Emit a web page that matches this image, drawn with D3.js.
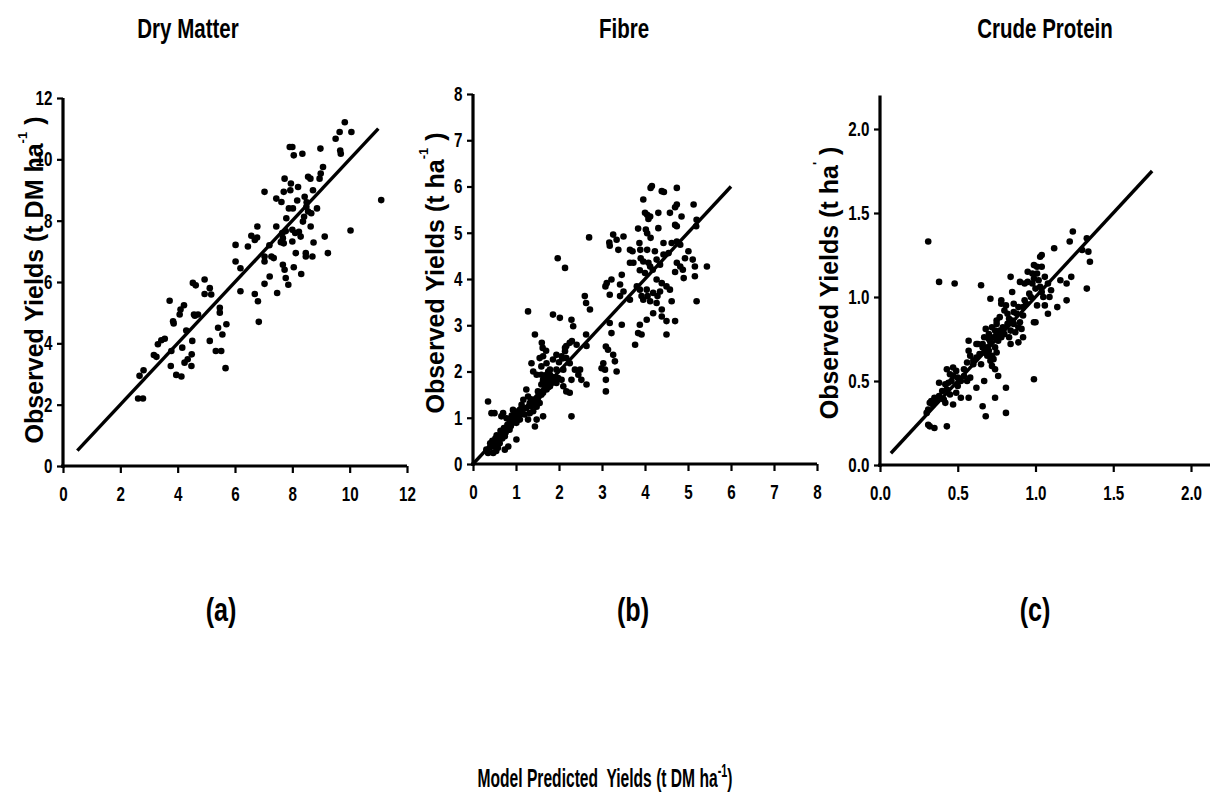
<!DOCTYPE html>
<html>
<head>
<meta charset="utf-8">
<script src="https://cdn.jsdelivr.net/npm/d3@7/dist/d3.min.js"></script>
<style>
  html, body { margin: 0; padding: 0; background: #fff; }
  svg { display: block; }
  text { font-family: "Liberation Sans", Arial, sans-serif; font-weight: bold; fill: #000; }
</style>
</head>
<body>
<svg id="chart" width="1210" height="801"></svg>
<script>
// Observed vs model-predicted yields: [predicted, observed]
const dryMatterPoints = [
  [2.62,2.2],[2.79,2.2],[2.67,2.94],[2.81,3.12],[3.17,3.62],[3.26,3.56],[3.31,3.97],[3.43,4.1],[3.55,4.15],
  [3.72,5.39],[3.76,3.26],[3.78,3.75],[3.84,4.72],[3.86,4.65],[3.95,2.97],[4.13,2.92],[4.07,4.94],[4.1,5.1],
  [4.22,5.24],[4.16,3.86],[4.24,3.37],[4.35,3.48],[4.3,4.42],[4.48,3.26],[4.49,3.64],[4.51,4.08],[4.53,5.97],
  [4.63,5.89],[4.57,4.94],[4.71,4.94],[4.94,6.08],[4.94,5.61],[5.12,5.8],[5.17,5.59],[5.12,4.08],[5.33,3.75],
  [5.52,3.75],[5.41,4.51],[5.56,4.29],[5.7,4.62],[5.47,5.16],[5.47,5.0],[5.67,3.19],[6.02,6.67],[6.02,7.21],
  [6.19,6.45],[6.19,5.7],[6.45,7.16],[6.57,7.51],[6.69,7.37],[6.77,7.45],[6.78,7.81],[6.69,5.61],[6.8,5.37],
  [6.83,4.7],[7.03,8.94],[7.03,6.83],[7.03,6.67],[7.03,5.94],[7.21,6.18],[7.27,6.83],[7.35,6.78],[7.44,7.81],
  [7.44,8.72],[7.47,5.64],[7.62,8.61],[7.7,8.94],[7.73,9.37],[7.67,7.43],[7.7,7.26],[7.77,7.66],[7.79,8.08],
  [7.67,6.56],[7.73,6.4],[7.77,6.13],[7.86,5.91],[7.88,8.4],[7.91,10.4],[8.0,10.4],[8.05,10.13],[7.93,8.99],
  [7.95,9.21],[8.02,8.4],[8.0,7.7],[8.0,7.32],[8.05,6.48],[8.12,6.94],[8.17,8.66],[8.2,9.1],[8.23,7.64],
  [8.29,7.48],[8.31,6.26],[8.35,10.18],[8.37,7.97],[8.41,8.13],[8.43,8.78],[8.49,8.45],[8.47,6.83],[8.47,6.94],
  [8.55,9.43],[8.63,9.37],[8.64,7.81],[8.66,8.24],[8.72,8.99],[8.7,6.83],[8.74,7.29],[8.86,8.4],[8.95,9.37],
  [8.98,10.35],[8.99,9.54],[9.07,9.75],[9.13,7.48],[9.24,6.94],[9.51,10.67],[9.65,10.89],[9.67,10.29],
  [9.69,10.18],[9.83,11.21],[10.06,10.89],[10.03,7.68],[11.1,8.67],[7.6,7.3],[7.65,7.6],[7.2,7.2],[8.1,7.6],
  [8.5,8.6],[8.55,8.3],[4.6,4.9]
];

const fibrePoints = [
  [4.13,5.97],[4.16,6.01],[4.39,5.9],[4.44,5.88],[4.74,5.97],[3.96,5.72],[4.0,5.43],[4.05,5.39],[4.12,5.35],
  [4.08,5.3],[4.31,5.43],[4.58,5.43],[4.74,5.61],[4.7,5.55],[4.85,5.35],[5.13,5.61],[5.2,5.28],[5.19,5.14],
  [3.84,5.09],[4.02,5.07],[4.05,4.99],[4.13,4.89],[4.31,5.1],[4.7,5.17],[4.74,5.14],[3.5,4.92],[3.34,4.85],
  [3.26,4.96],[3.17,4.79],[3.18,4.72],[3.65,4.63],[3.71,4.6],[3.38,4.63],[3.87,4.78],[3.89,4.63],[4.05,4.63],
  [4.23,4.6],[4.43,4.78],[4.62,4.78],[4.74,4.81],[4.82,4.74],[5.01,4.6],[4.93,4.45],[4.43,4.53],[4.55,4.56],
  [3.65,4.35],[3.73,4.35],[3.9,4.45],[3.96,4.38],[4.08,4.35],[4.12,4.27],[4.27,4.42],[4.35,4.31],[4.74,4.35],
  [4.82,4.27],[4.88,4.2],[5.11,4.42],[5.16,4.27],[5.44,4.27],[5.16,4.06],[4.9,4.02],[4.7,4.15],[3.88,4.19],
  [4.0,4.13],[4.18,4.2],[4.27,3.99],[3.46,4.09],[3.22,3.99],[3.42,3.88],[3.11,3.91],[3.08,3.84],[3.42,3.63],
  [3.5,3.73],[3.65,3.55],[3.81,3.84],[3.88,3.77],[3.92,3.63],[3.96,3.55],[4.04,3.77],[4.06,3.63],[4.12,3.52],
  [4.19,3.7],[4.29,3.63],[4.35,3.73],[4.39,3.91],[4.5,3.84],[4.58,3.77],[4.62,3.52],[4.27,3.48],[4.39,3.34],
  [4.39,3.19],[4.19,3.26],[4.04,3.12],[3.88,3.01],[3.84,2.83],[3.92,2.8],[3.77,2.58],[3.46,3.01],[3.18,3.66],
  [3.18,3.05],[3.22,2.83],[3.09,2.54],[3.14,2.47],[3.26,2.36],[3.3,2.22],[3.03,2.18],[3.07,2.04],[3.34,2.0],
  [2.99,2.07],[3.09,1.82],[3.09,1.57],[4.5,3.09],[4.5,2.8],[4.7,3.09],[5.2,3.52],[2.7,4.9],[2.6,3.63],
  [2.63,3.48],[2.72,3.34],[1.97,4.45],[2.14,4.24],[1.28,3.3],[1.86,3.23],[2.02,3.16],[2.29,3.12],[2.33,2.98],
  [2.25,2.62],[2.3,2.66],[2.41,2.58],[2.63,2.8],[2.64,2.55],[1.44,2.8],[1.6,2.62],[1.62,2.51],[1.7,2.45],
  [1.55,2.29],[1.63,2.33],[1.71,2.18],[1.86,2.26],[1.94,2.36],[2.06,2.33],[2.14,2.44],[2.17,2.29],[2.25,2.18],
  [2.14,2.51],[2.17,2.55],[1.94,2.04],[2.1,2.04],[1.36,2.18],[1.4,2.0],[1.48,1.93],[1.59,2.11],[1.75,1.93],
  [1.79,2.04],[2.06,1.82],[2.1,1.68],[2.17,1.57],[2.25,1.54],[2.29,1.82],[2.45,1.93],[2.49,2.04],[2.52,1.82],
  [2.64,1.72],[2.37,2.04],[1.63,1.82],[1.7,1.86],[1.59,1.72],[1.51,1.57],[1.24,1.61],[1.28,1.46],[1.17,1.39],
  [1.32,1.32],[1.13,1.28],[1.44,1.39],[1.51,1.43],[1.44,0.81],[1.48,0.96],[1.63,1.03],[1.01,0.53],[2.29,1.03],
  [0.35,1.35],[0.43,1.1],[0.5,1.1],[0.31,0.31],[0.35,0.24],[0.39,0.35],[0.43,0.42],[0.47,0.45],[0.5,0.38],
  [0.54,0.49],[0.58,0.56],[0.62,0.6],[0.62,0.45],[0.66,0.67],[0.7,0.71],[0.74,0.6],[0.78,0.74],[0.82,0.81],
  [0.85,0.89],[0.89,0.96],[0.93,0.99],[0.97,1.03],[1.01,1.07],[1.05,1.14],[1.09,1.17],[1.13,1.21],[0.7,1.1],
  [0.66,1.03],[0.78,0.99],[0.85,0.74],[0.82,0.38],[0.74,0.31],[0.58,0.35],[0.47,0.24],[0.54,0.28],[0.93,1.17],
  [1.01,0.89],[1.09,0.96],[1.2,1.07],[1.24,1.21],[1.28,0.96],[1.32,1.1],[1.4,1.14],[1.48,1.24],[1.55,1.32],
  [1.59,1.5],[1.63,1.54],[1.71,1.61],[1.75,1.66],[1.79,1.68],[1.83,1.75],[1.9,1.79],[1.63,1.79],[1.67,1.86],
  [1.71,1.93],[1.75,2.0],[1.79,1.93],[1.59,1.93],[1.79,1.82],[1.94,1.75],[1.98,1.86],[0.45,0.5],[0.52,0.55],
  [0.6,0.5],[0.68,0.55],[0.72,0.78],[0.8,0.85],[0.88,0.82],[0.95,0.9],[1.0,0.98],[1.05,1.02],[1.15,1.1],
  [0.4,0.45],[0.55,0.62],[0.64,0.72],[0.76,0.68],[0.9,1.05],[1.1,1.08],[1.35,1.25],[1.45,1.3],[1.52,1.45],
  [1.66,1.74],[1.72,1.8],[1.85,1.88],[2.0,2.2],[2.08,2.28],[1.35,1.4]
];

const proteinPoints = [
  [0.31,1.33],[0.38,1.09],[0.48,1.08],[0.65,1.07],[0.71,0.99],[0.84,1.12],[0.85,1.03],[0.9,1.09],[0.93,1.08],
  [0.95,1.15],[0.98,1.14],[0.99,1.19],[1.01,1.18],[1.03,1.24],[1.04,1.25],[1.04,1.18],[0.95,1.09],[0.98,1.08],
  [0.99,1.11],[1.01,1.14],[1.02,1.1],[1.03,1.06],[1.04,1.03],[1.05,1.0],[1.09,1.0],[1.08,1.08],[1.12,1.29],
  [1.14,0.94],[1.08,0.9],[1.06,0.95],[1.01,0.95],[1.0,0.85],[0.99,0.51],[1.2,0.98],[1.2,1.08],[1.23,1.12],
  [1.22,1.33],[1.24,1.39],[1.33,1.35],[1.34,1.27],[1.35,1.21],[1.33,1.05],[1.3,1.28],[0.78,0.96],[0.77,0.88],
  [0.75,0.86],[0.78,0.98],[0.8,0.92],[0.81,0.95],[0.75,0.84],[0.77,0.8],[0.79,0.82],[0.83,0.87],[0.84,0.8],
  [0.85,0.86],[0.72,0.82],[0.7,0.78],[0.68,0.81],[0.67,0.76],[0.66,0.72],[0.63,0.72],[0.69,0.7],[0.71,0.73],
  [0.73,0.76],[0.75,0.78],[0.74,0.7],[0.75,0.67],[0.73,0.63],[0.71,0.62],[0.69,0.65],[0.67,0.67],[0.64,0.66],
  [0.62,0.64],[0.72,0.59],[0.74,0.57],[0.83,0.76],[0.84,0.72],[0.82,0.84],[0.87,0.79],[0.89,0.82],[0.9,0.85],
  [0.91,0.81],[0.92,0.89],[0.88,0.9],[0.89,0.94],[0.92,0.94],[0.94,0.96],[0.92,0.76],[0.89,0.73],[0.86,0.96],
  [0.86,0.91],[0.57,0.74],[0.62,0.72],[0.58,0.65],[0.56,0.61],[0.6,0.62],[0.54,0.57],[0.49,0.56],[0.47,0.58],
  [0.54,0.53],[0.56,0.5],[0.58,0.52],[0.5,0.52],[0.47,0.53],[0.43,0.57],[0.45,0.54],[0.46,0.5],[0.42,0.48],
  [0.44,0.49],[0.4,0.44],[0.43,0.45],[0.45,0.42],[0.38,0.49],[0.38,0.41],[0.35,0.4],[0.33,0.38],[0.32,0.37],
  [0.34,0.36],[0.31,0.33],[0.3,0.31],[0.31,0.24],[0.32,0.23],[0.35,0.22],[0.42,0.37],[0.41,0.39],[0.47,0.36],
  [0.49,0.43],[0.52,0.4],[0.43,0.23],[0.57,0.4],[0.62,0.46],[0.67,0.5],[0.66,0.35],[0.68,0.29],[0.74,0.4],
  [0.76,0.53],[0.81,0.46],[0.81,0.31],[0.99,0.85],[0.57,0.68],[0.6,0.6],[0.72,0.65],[0.7,0.75],[0.76,0.74],
  [0.8,0.78],[0.86,0.84],[0.96,1.02],[1.0,1.05],[1.06,1.12],[0.93,0.98],[0.82,0.9],[0.7,0.68],[0.65,0.6],
  [0.52,0.5],[0.5,0.47],[0.36,0.38],[1.1,1.04],[1.16,1.1],[0.97,1.0],[0.74,0.8],[0.78,0.76],[0.66,0.7]
];

// 1:1 reference lines, [from, to]
const dryMatterLine = [0.5, 11.0];
const fibreLine = [0.0, 6.0];
const proteinLine = [0.07, 1.75];

const panelTitles = ["Dry Matter", "Fibre", "Crude Protein"];
const panelTags = ["(a)", "(b)", "(c)"];
const dryMatterTicks = [0, 2, 4, 6, 8, 10, 12];
const fibreTicks = [0, 1, 2, 3, 4, 5, 6, 7, 8];
const proteinTicks = [0.0, 0.5, 1.0, 1.5, 2.0];

const svg = d3.select("#chart");
const NARROW = 0.76; // horizontal squeeze that gives the condensed bold face

// condensed text anchored at (x, y), centred
function condensedText(parent, x, y, size, sx) {
  return parent.append("g")
    .attr("transform", `translate(${x},${y}) scale(${sx},1)`)
    .append("text")
    .attr("text-anchor", "middle")
    .style("font-size", size + "px")
    .style("white-space", "pre");
}

const panels = [
  {
    points: dryMatterPoints, line: dryMatterLine, title: panelTitles[0], tag: panelTags[0],
    xTicks: dryMatterTicks, yTicks: dryMatterTicks, fmt: d3.format("d"),
    x: d3.scaleLinear().domain([0, 12]).range([63, 407]),
    y: d3.scaleLinear().domain([0, 12]).range([466, 98]),
    xMax: 12, yMax: 12,
    titleX: 188, tagX: 221, labelX: 43, labelY: 280,
    ylabel: ["Observed Yields (t DM ha", "-1", " )"]
  },
  {
    points: fibrePoints, line: fibreLine, title: panelTitles[1], tag: panelTags[1],
    xTicks: fibreTicks, yTicks: fibreTicks, fmt: d3.format("d"),
    x: d3.scaleLinear().domain([0, 8]).range([473, 817]),
    y: d3.scaleLinear().domain([0, 8]).range([464, 94]),
    xMax: 8, yMax: 8,
    titleX: 624, tagX: 633, labelX: 444, labelY: 273,
    ylabel: ["Observed Yields (t ha", "-1", " )"]
  },
  {
    points: proteinPoints, line: proteinLine, title: panelTitles[2], tag: panelTags[2],
    xTicks: proteinTicks, yTicks: proteinTicks, fmt: d3.format(".1f"),
    x: d3.scaleLinear().domain([0, 2]).range([880, 1191]),
    y: d3.scaleLinear().domain([0, 2.2]).range([465, 95.4]),
    xMax: 2.14, yMax: 2.2,
    titleX: 1045, tagX: 1035, labelX: 838, labelY: 283,
    ylabel: ["Observed Yields (t ha", "'", " )"]
  }
];

panels.forEach(p => {
  const g = svg.append("g");

  // tick marks and labels
  const xAxis = d3.axisBottom(p.x).tickValues(p.xTicks).tickFormat(p.fmt).tickSize(7).tickPadding(14);
  const yAxis = d3.axisLeft(p.y).tickValues(p.yTicks).tickFormat(p.fmt).tickSize(6).tickPadding(8);

  const gx = g.append("g").attr("transform", `translate(0,${p.y(0)})`).call(xAxis);
  const gy = g.append("g").attr("transform", `translate(${p.x(0)},0)`).call(yAxis);
  [gx, gy].forEach(a => {
    a.attr("font-family", null).attr("font-size", null);
    a.select(".domain").remove();
    a.selectAll(".tick line").attr("stroke", "#000").attr("stroke-width", 2.2);
    a.selectAll(".tick text")
      .attr("fill", "#000")
      .style("font-size", "20px")
      .attr("transform", `scale(${NARROW},1)`);
  });

  // axis lines
  g.append("line")
    .attr("x1", p.x(0) - 2).attr("x2", p.x(p.xMax))
    .attr("y1", p.y(0)).attr("y2", p.y(0))
    .attr("stroke", "#000").attr("stroke-width", 3.2);
  g.append("line")
    .attr("x1", p.x(0)).attr("x2", p.x(0))
    .attr("y1", p.y(0) + 2).attr("y2", p.y(p.yMax))
    .attr("stroke", "#000").attr("stroke-width", 3.2);

  // 1:1 line
  g.append("line")
    .attr("x1", p.x(p.line[0])).attr("y1", p.y(p.line[0]))
    .attr("x2", p.x(p.line[1])).attr("y2", p.y(p.line[1]))
    .attr("stroke", "#000").attr("stroke-width", 3.4);

  // observations
  g.append("g").selectAll("circle")
    .data(p.points)
    .join("circle")
    .attr("cx", d => p.x(d[0]))
    .attr("cy", d => p.y(d[1]))
    .attr("r", 3.3)
    .attr("fill", "#000");

  // panel title
  condensedText(g, p.titleX, 38, 27, NARROW).text(p.title);

  // panel tag
  condensedText(g, p.tagX, 621, 34, 0.74).text(p.tag);

  // y axis label
  const yl = g.append("text")
    .attr("transform", `translate(${p.labelX},${p.labelY}) rotate(-90)`)
    .attr("text-anchor", "middle")
    .style("font-size", "25px")
    .style("white-space", "pre");
  yl.append("tspan").text(p.ylabel[0]);
  yl.append("tspan").attr("dy", -16).style("font-size", "13px").text(p.ylabel[1]);
  yl.append("tspan").attr("dy", 16).text(p.ylabel[2]);
});

// shared x axis label
const xl = condensedText(svg, 605, 787, 26, 0.6);
xl.append("tspan").text("Model Predicted  Yields (t DM ha");
xl.append("tspan").attr("dy", -10).style("font-size", "18px").text("-1");
xl.append("tspan").attr("dy", 10).text(")");
</script>
</body>
</html>
